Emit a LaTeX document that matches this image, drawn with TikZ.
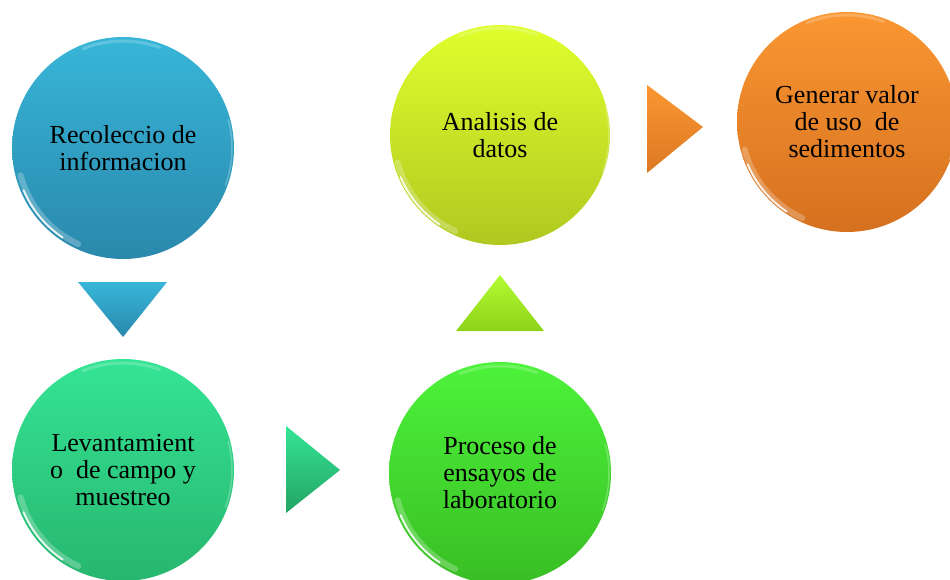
\documentclass[tikz,border=0pt]{standalone}
\usepackage{fontspec}
\setmainfont{Liberation Serif}
\definecolor{blueT}{HTML}{37B6D8}
\definecolor{blueB}{HTML}{2A88AC}
\definecolor{tealT}{HTML}{35E495}
\definecolor{tealB}{HTML}{27B66E}
\definecolor{greenT}{HTML}{4DF33B}
\definecolor{greenB}{HTML}{39BE24}
\definecolor{limeT}{HTML}{DFFF2D}
\definecolor{limeB}{HTML}{B0C820}
\definecolor{orangeT}{HTML}{FA9732}
\definecolor{orangeB}{HTML}{D5701F}
\tikzset{
  ball/.style={circle, minimum size=222pt, inner sep=0pt, align=center,
    font=\fontsize{26}{27}\selectfont},
  shine/.style={white, line cap=round},
}
\newcommand{\gloss}[1]{%
\draw[shine, opacity=.25, line width=6pt] ([shift={(195:106pt)}]#1.center) arc[start angle=195, end angle=245, radius=106pt];
\draw[shine, opacity=.85, line width=2pt] ([shift={(203:108pt)}]#1.center) arc[start angle=203, end angle=236, radius=108pt];
\draw[shine, opacity=.2, line width=3pt] ([shift={(70:107pt)}]#1.center) arc[start angle=70, end angle=112, radius=107pt];
\draw[shine, opacity=.25, line width=1.5pt] ([shift={(-20:109pt)}]#1.center) arc[start angle=-20, end angle=15, radius=109pt];
}
\begin{document}
\begin{tikzpicture}[x=1pt, y=-1pt]
\useasboundingbox (0,0) rectangle (950,580);
% circles
\node[ball, top color=blueT, bottom color=blueB] (recol) at (123,148) {Recoleccio de\\informacion};
\node[ball, top color=tealT, bottom color=tealB] (levan) at (123,470) {Levantamient\\o~~de campo y\\muestreo};
\node[ball, top color=greenT, bottom color=greenB] (proc) at (500,473) {Proceso de\\ensayos de\\laboratorio};
\node[ball, top color=limeT, bottom color=limeB, minimum size=220pt] (anal) at (500,135) {Analisis de\\datos};
\node[ball, top color=orangeT, bottom color=orangeB, minimum size=220pt] (gener) at (847,122) {Generar valor\\de uso~~de\\sedimentos};
\gloss{recol}
\gloss{levan}
\gloss{proc}
\gloss{anal}
\gloss{gener}
% arrows
\shade[top color=blueT, bottom color=blueB] (78,282)--(167,282)--(123,337)--cycle;
\shade[top color=tealT, bottom color=tealB!90!black] (286,426)--(340,470)--(286,513)--cycle;
\shade[top color=limeT!70!greenT, bottom color=limeB!80!green] (500,275)--(544,331)--(456,331)--cycle;
\shade[top color=orangeT, bottom color=orangeB!80!orangeT] (647,85)--(703,127)--(647,173)--cycle;
\end{tikzpicture}
\end{document}
